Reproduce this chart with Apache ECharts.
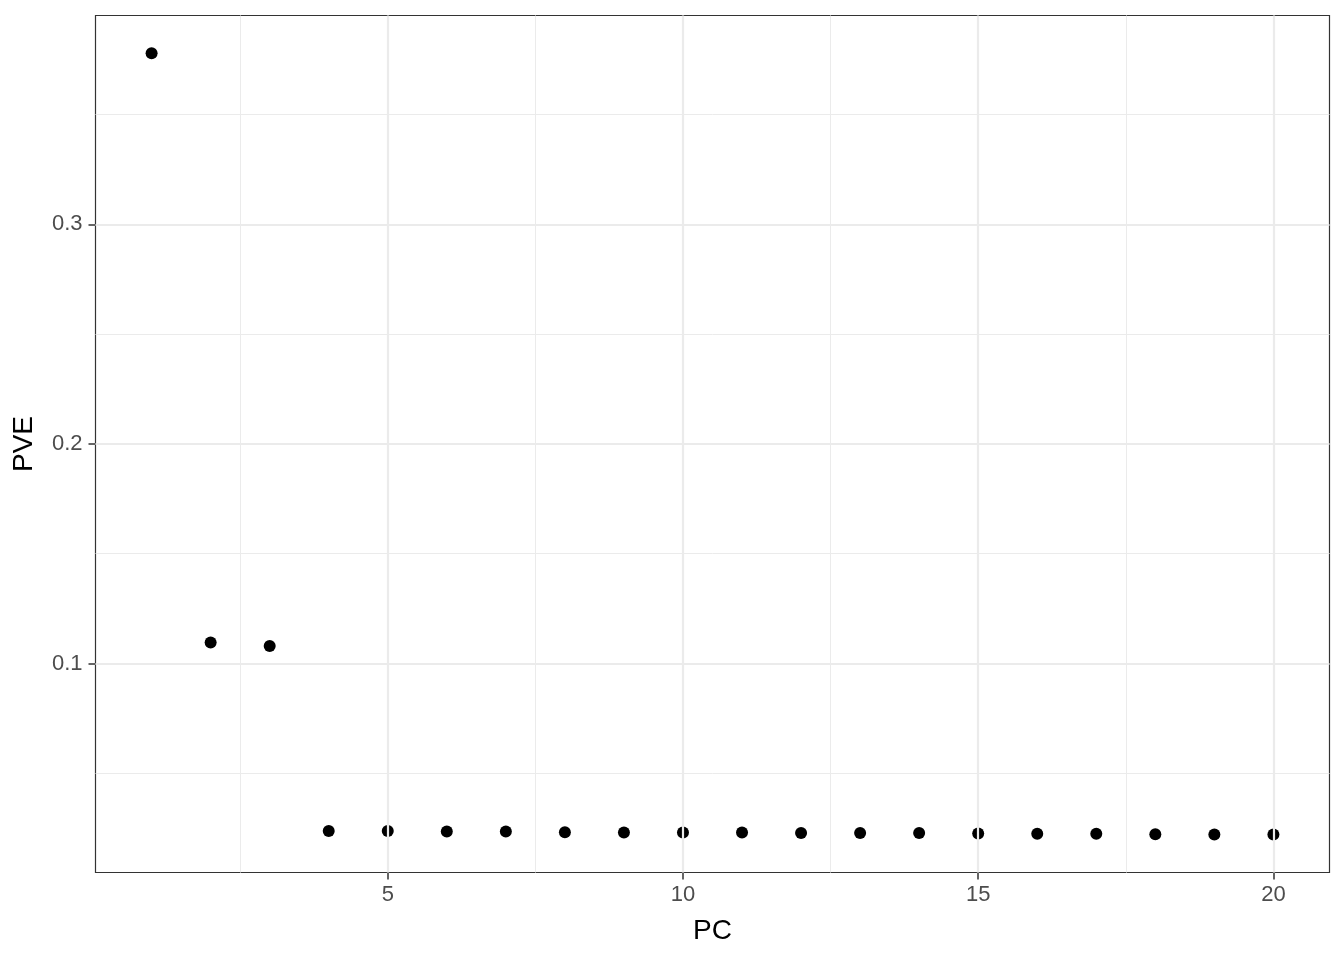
<!DOCTYPE html>
<html>
<head>
<meta charset="utf-8">
<script src="https://cdn.jsdelivr.net/npm/echarts@6/dist/echarts.min.js"></script>
<style>
html,body{margin:0;padding:0;background:#fff;}
#chart{width:1344px;height:960px;}
</style>
</head>
<body>
<div id="chart"></div>
<script>
const pc = [1,2,3,4,5,6,7,8,9,10,11,12,13,14,15,16,17,18,19,20];
const pve = [0.3779,0.1096,0.1080,0.0237,0.0237,0.0235,0.0235,0.0231,0.0230,0.0230,0.0230,0.0228,0.0228,0.0228,0.0226,0.0224,0.0224,0.0222,0.0221,0.0221];
const xTicks = [5,10,15,20];
const xMinor = [2.5,7.5,12.5,17.5];
const yTicks = [0.1,0.2,0.3];
const yMinor = [0.05,0.15,0.25,0.35];

const chart = echarts.init(document.getElementById('chart'));
const gridLine = (axis, v, w) => ({[axis]: v, lineStyle: {color: '#ebebeb', width: w, type: 'solid'}});
const lines = [].concat(
  xMinor.map(v => gridLine('xAxis', v, 1)),
  yMinor.map(v => gridLine('yAxis', v, 1)),
  xTicks.map(v => gridLine('xAxis', v, 2.2)),
  yTicks.map(v => gridLine('yAxis', v, 2.2))
);
chart.setOption({
  animation: false,
  backgroundColor: '#ffffff',
  grid: {left: 95.5, right: 14.5, top: 15.5, bottom: 87.5, show: true, borderColor: '#333333', borderWidth: 1.2, backgroundColor: 'transparent', outerBoundsMode: 'none', containLabel: false},
  xAxis: {
    type: 'value', min: 0.05, max: 20.95,
    name: 'PC', nameLocation: 'middle', nameGap: 45,
    nameTextStyle: {color: '#000', fontSize: 28, fontFamily: 'Liberation Sans, Arial, sans-serif'},
    axisLine: {show: false},
    axisTick: {show: true, customValues: xTicks, length: 7, lineStyle: {color: '#333333', width: 1.5}},
    axisLabel: {customValues: xTicks, color: '#4d4d4d', fontSize: 22, margin: 11, fontFamily: 'Liberation Sans, Arial, sans-serif'},
    splitLine: {show: false}
  },
  yAxis: {
    type: 'value', min: 0.0048, max: 0.3951,
    name: 'PVE', nameLocation: 'middle', nameGap: 57, nameRotate: 90,
    nameTextStyle: {color: '#000', fontSize: 28, fontFamily: 'Liberation Sans, Arial, sans-serif'},
    axisLine: {show: false},
    axisTick: {show: true, customValues: yTicks, length: 7, lineStyle: {color: '#333333', width: 1.5}},
    axisLabel: {customValues: yTicks, color: '#4d4d4d', fontSize: 22, margin: 13, fontFamily: 'Liberation Sans, Arial, sans-serif', formatter: v => String(v)},
    splitLine: {show: false}
  },
  series: [
    {
      type: 'line', data: [], z: 1, silent: true,
      markLine: {silent: true, symbol: ['none','none'], label: {show: false}, animation: false, data: lines}
    },
    {
      type: 'scatter', z: 3,
      data: pc.map((x, i) => [x, pve[i]]),
      symbol: 'circle', symbolSize: 12,
      itemStyle: {color: '#000000', opacity: 1}
    }
  ]
});
</script>
</body>
</html>
